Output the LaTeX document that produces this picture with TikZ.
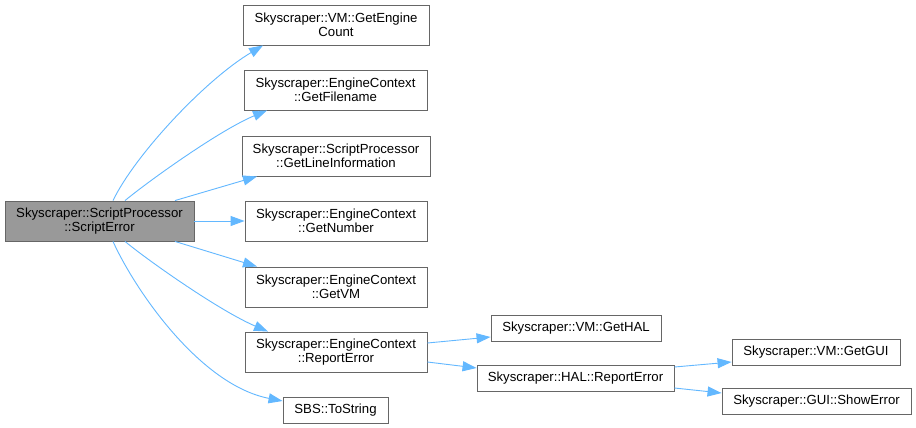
\documentclass[tikz,border=0pt]{standalone}
\usepackage{fontspec}
\setmainfont{Liberation Sans}
\usetikzlibrary{arrows.meta,calc}
\definecolor{edgeblue}{HTML}{63B8FF}
\definecolor{boxline}{HTML}{666666}
\definecolor{mainfill}{HTML}{999999}
\begin{document}
\begin{tikzpicture}[x=1pt,y=-1pt,
  fn/.style={draw=boxline,line width=0.9pt,fill=white,inner sep=0pt,align=center,
    font=\fontsize{13.2}{14.5}\selectfont,text=black},
  edge/.style={draw=edgeblue,line width=0.9pt,-{Triangle[length=14pt,width=10pt,fill=edgeblue]}}]
\useasboundingbox (0,0) rectangle (916,428);
\fill[white] (0,0) rectangle (916,428);
% nodes
\node[fn,fill=mainfill,minimum width=189pt,minimum height=40pt] (main) at (99.5,221) {Skyscraper::ScriptProcessor\\::ScriptError};
\node[fn,minimum width=186pt,minimum height=40pt] (gec) at (336,25) {Skyscraper::VM::GetEngine\\Count};
\node[fn,minimum width=183pt,minimum height=40pt] (gfn) at (335.5,90) {Skyscraper::EngineContext\\::GetFilename};
\node[fn,minimum width=188pt,minimum height=40pt] (gli) at (336,156) {Skyscraper::ScriptProcessor\\::GetLineInformation};
\node[fn,minimum width=182pt,minimum height=40pt] (gnum) at (336,221) {Skyscraper::EngineContext\\::GetNumber};
\node[fn,minimum width=182pt,minimum height=40pt] (gvm) at (336,287) {Skyscraper::EngineContext\\::GetVM};
\node[fn,minimum width=182pt,minimum height=40pt] (erep) at (336,352) {Skyscraper::EngineContext\\::ReportError};
\node[fn,minimum width=105pt,minimum height=26pt] (tostr) at (335.5,410) {SBS::ToString};
\node[fn,minimum width=170pt,minimum height=26pt] (ghal) at (576,328) {Skyscraper::VM::GetHAL};
\node[fn,minimum width=197pt,minimum height=26pt] (hrep) at (575.5,378) {Skyscraper::HAL::ReportError};
\node[fn,minimum width=168pt,minimum height=26pt] (ggui) at (816,352) {Skyscraper::VM::GetGUI};
\node[fn,minimum width=189pt,minimum height=26pt] (serr) at (816.5,401) {Skyscraper::GUI::ShowError};
% edges
\draw[edge] ($(main.north)+(13.5,0)$) .. controls (135,155) and (205,80) .. ($(gec.south)+(-73,0)$);
\draw[edge] ($(main.north)+(25.5,0)$) .. controls (150,180) and (220,130) .. ($(gfn.south)+(-68.5,0)$);
\draw[edge] ($(main.north)+(75.5,0)$) -- ($(gli.south)+(-79,0)$);
\draw[edge] (main.east) -- (gnum.west);
\draw[edge] ($(main.south)+(75.5,0)$) -- ($(gvm.north)+(-79,0)$);
\draw[edge] ($(main.south)+(25.5,0)$) .. controls (150,262) and (220,311) .. ($(erep.north)+(-68,0)$);
\draw[edge] ($(main.south)+(13.5,0)$) .. controls (135,290) and (200,385) .. ($(tostr.west)+(0,-9)$);
\draw[edge] ($(erep.east)+(0,-9)$) -- ($(ghal.west)+(0,9)$);
\draw[edge] ($(erep.east)+(0,10)$) -- ($(hrep.west)+(0,-10)$);
\draw[edge] ($(hrep.east)+(0,-11)$) -- ($(ggui.west)+(0,10)$);
\draw[edge] ($(hrep.east)+(0,10)$) -- ($(serr.west)+(0,-8)$);
\end{tikzpicture}
\end{document}
